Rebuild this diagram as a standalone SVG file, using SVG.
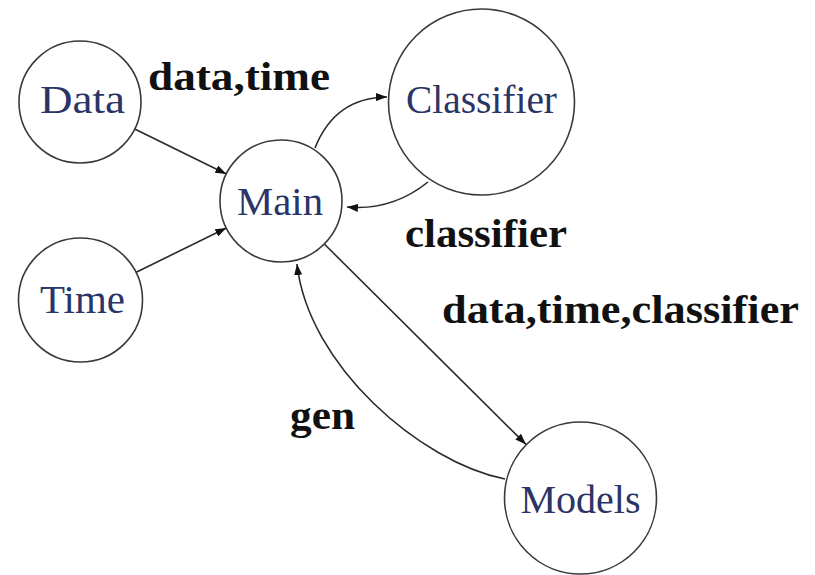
<svg xmlns="http://www.w3.org/2000/svg" width="815" height="575" viewBox="0 0 815 575">
  <style>
    .node circle { fill: #ffffff; stroke: #3a3a3a; stroke-width: 1.6; }
    .node text { font-family: "Liberation Serif", "DejaVu Serif", serif; font-size: 40px; fill: #2a3466; text-anchor: middle; }
    .edge { fill: none; stroke: #2a2a2a; stroke-width: 1.6; marker-end: url(#arrow); }
    .elabel { font-family: "Liberation Serif", "DejaVu Serif", serif; font-size: 39px; font-weight: bold; fill: #111111; }
  </style>
  <defs>
    <marker id="arrow" markerUnits="userSpaceOnUse" markerWidth="11" markerHeight="8" refX="11" refY="4" orient="auto">
      <path d="M0,0 L11,4 L0,8 Z" fill="#111111"/>
    </marker>
  </defs>
  <rect width="815" height="575" fill="#ffffff"/>

  <g id="connectors">
    <line class="edge" x1="134.7" y1="129" x2="226.3" y2="174"/>
    <line class="edge" x1="134.7" y1="273" x2="226.3" y2="228"/>
    <path class="edge" d="M315,148 Q335,97.5 387,97"/>
    <path class="edge" d="M428,182 Q392,211 347,207"/>
    <line class="edge" x1="324.3" y1="244" x2="526" y2="444.4"/>
    <path class="edge" d="M505,479 C420,462 308,365 297,264"/>
  </g>

  <g id="edge-labels">
    <text class="elabel" x="148" y="90" textLength="182" lengthAdjust="spacingAndGlyphs">data,time</text>
    <text class="elabel" x="405" y="247" textLength="162" lengthAdjust="spacingAndGlyphs">classifier</text>
    <text class="elabel" x="442" y="323" textLength="357" lengthAdjust="spacingAndGlyphs">data,time,classifier</text>
    <text class="elabel" x="290" y="429" textLength="65" lengthAdjust="spacingAndGlyphs">gen</text>
  </g>

  <g id="node-data" class="node">
    <circle cx="80" cy="102" r="61"/>
    <text x="82.5" y="113" textLength="85" lengthAdjust="spacingAndGlyphs">Data</text>
  </g>
  <g id="node-time" class="node">
    <circle cx="80.5" cy="300" r="62"/>
    <text x="82.5" y="313" textLength="85" lengthAdjust="spacingAndGlyphs">Time</text>
  </g>
  <g id="node-main" class="node">
    <circle cx="281" cy="201" r="61"/>
    <text x="280" y="215" textLength="86" lengthAdjust="spacingAndGlyphs">Main</text>
  </g>
  <g id="node-classifier" class="node">
    <circle cx="481.5" cy="102" r="93"/>
    <text x="481.5" y="113" textLength="151" lengthAdjust="spacingAndGlyphs">Classifier</text>
  </g>
  <g id="node-models" class="node">
    <circle cx="580.5" cy="498" r="76"/>
    <text x="580.5" y="513" textLength="120" lengthAdjust="spacingAndGlyphs">Models</text>
  </g>
</svg>
